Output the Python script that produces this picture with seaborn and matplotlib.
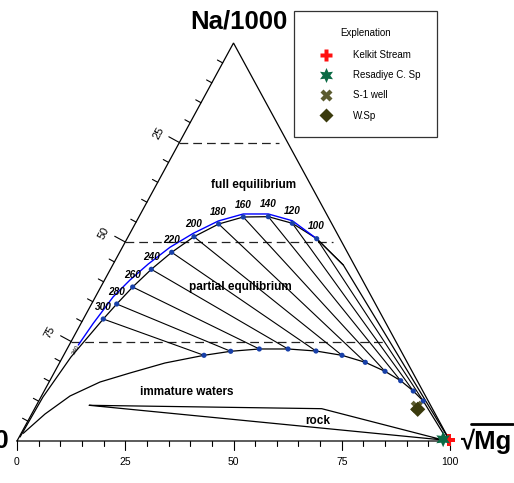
import numpy as np
import pandas as pd
import matplotlib
matplotlib.use("Agg")
import matplotlib.pyplot as plt
import seaborn as sns

# ---------------- data (ternary %: Na/1000 and sqrt(Mg)) ----------------
temps = [100, 120, 140, 160, 180, 200, 220, 240, 260, 280, 300]
full_na = [50.83, 54.70, 56.36, 56.28, 54.52, 51.33, 47.41, 43.14, 38.69, 34.42, 30.65]
full_mg = [43.80, 36.23, 29.86, 24.12, 19.32, 15.21, 12.02, 9.45, 7.37, 5.82, 4.60]
partial_na = [10.05, 12.56, 15.15, 17.51, 19.77, 21.53, 22.61, 23.12, 23.12, 22.54, 21.53]
partial_mg = [88.80, 85.24, 81.03, 76.23, 70.55, 64.29, 57.74, 51.03, 44.40, 38.08, 32.42]

# extensions of the full-equilibrium curve
full_low_na = [0.0, 44.22]          # toward sqrt(Mg) corner
full_low_mg = [100.0, 53.25]
full_high_na = [26.13, 21.11, 11.06, 1.0]   # toward K corner
full_high_mg = [3.33, 1.91, 0.47, 0.2]

# blue reference curve
blue_na = [24.12, 29.57, 36.26, 40.45, 44.47, 48.67, 52.19, 55.28, 57.04, 57.04, 55.35, 50.83]
blue_mg = [2.10, 2.83, 4.11, 5.87, 8.08, 10.99, 14.63, 18.85, 23.74, 29.52, 35.90, 43.80]

# immature-water boundary extensions
imm_left_na = [1.93, 6.78, 11.31, 14.82, 17.09, 19.60]
imm_left_mg = [0.48, 3.08, 6.59, 11.76, 17.56, 24.38]
imm_right_na = [0.75]
imm_right_mg = [98.7]

# rock dissolution wedge
rock_na = [8.97, 8.12, 0.25, 8.97]
rock_mg = [12.21, 66.31, 98.3, 12.21]

# samples
sample_names = ["Kelkit Stream", "Resadiye C. Sp", "S-1 well", "W.Sp"]
sample_na = [0.25, 0.43, 8.62, 7.96]
sample_mg = [99.6, 98.2, 88.0, 88.56]

bottom_ticks = [0, 25, 50, 75, 100]
left_ticks = [25, 50, 75]

# ---------------- helpers ----------------
SX, SY = 4.33, 3.98   # pixels per ternary unit

def tx(mg, na):
    return np.asarray(mg, float) + np.asarray(na, float) / 2.0

def line(mg, na, ax, **kw):
    sns.lineplot(x=tx(mg, na), y=np.asarray(na, float), sort=False,
                 estimator=None, ax=ax, legend=False, **kw)

sns.set_style("white")
plt.rcParams["font.family"] = ["Liberation Sans", "DejaVu Sans"]
plt.rcParams["text.color"] = "black"

fig = plt.figure(figsize=(5.14, 4.83), dpi=100)
ax = fig.add_axes([0, 0, 1, 1])
ax.set_xlim(-17 / SX, (514 - 17) / SX)
ax.set_ylim((441 - 483) / SY, 441 / SY)
ax.axis("off")

# triangle
ax.plot([0, 100, 50, 0], [0, 0, 100, 0], color="black", lw=0.9, solid_joinstyle="miter")

# bottom ticks
for v in range(0, 101, 5):
    L = 9 if v % 25 == 0 else 4.5
    ax.plot([v, v], [0, -L / SY], color="black", lw=0.8)
for v in bottom_ticks:
    ax.text(v, -21 / SY, str(v), ha="center", va="center", fontsize=7.5)

# left ticks (perpendicular to left edge)
ux, uy = -0.878, 0.478
for k in range(5, 100, 5):
    na = 100 - k
    L = 12 if k % 25 == 0 else 6
    x0, y0 = na / 2.0, na
    ax.plot([x0, x0 + ux * L / SX], [y0, y0 + uy * L / SY], color="black", lw=0.8)
for k in left_ticks:
    na = 100 - k
    ax.text(na / 2.0 - 21 / SX, na + 9 / SY, str(k), ha="center", va="center",
            fontsize=8, rotation=61.5)

# dashed reference lines
for na in [75, 50, 25]:
    ax.plot([na / 2.0, 100 - na / 2.0 - 2], [na, na], color="#222222", lw=0.9,
            dashes=(7, 4))

# rock wedge
line(rock_mg, rock_na, ax, color="black", lw=0.9)

# immature boundary curve
imm_mg = imm_left_mg + partial_mg[::-1] + imm_right_mg + [100.0]
imm_na = imm_left_na + partial_na[::-1] + imm_right_na + [0.0]
line(imm_mg, imm_na, ax, color="black", lw=0.9)

# tie lines
for i in range(len(temps)):
    line([full_mg[i], partial_mg[i]], [full_na[i], partial_na[i]], ax, color="black", lw=0.8)
line([full_low_mg[1], full_mg[0]], [full_low_na[1], full_na[0]], ax, color="black", lw=0.8)

# full equilibrium curve
feq_mg = full_low_mg + full_mg + full_high_mg
feq_na = full_low_na + full_na + full_high_na
line(feq_mg, feq_na, ax, color="black", lw=0.9)

# blue curve
line(blue_mg, blue_na, ax, color="#0000ff", lw=1.0)

# temperature points
pts = pd.DataFrame({"x": np.concatenate([tx(full_mg, full_na), tx(partial_mg, partial_na)]),
                    "y": np.concatenate([full_na, partial_na])})
sns.scatterplot(data=pts, x="x", y="y", color="#1840a8", s=14, edgecolor="none",
                ax=ax, legend=False, zorder=5)
for t, m, n in zip(temps, full_mg, full_na):
    ax.text(tx(m, n), n + 12.5 / SY, str(t), ha="center", va="center", fontsize=7.2,
            fontweight="bold", fontstyle="italic")
ax.text(tx(2.0, 23.0), 23.0, "340", ha="center", va="center", fontsize=4.5,
        rotation=61.5)

# region labels
ax.text(tx(22.4, 64.3), 64.3, "full equilibrium", ha="center", va="center",
        fontsize=8.5, fontweight="bold")
ax.text(tx(32.2, 38.7), 38.7, "partial equilibrium", ha="center", va="center",
        fontsize=8.5, fontweight="bold")
ax.text(tx(33.1, 12.3), 12.3, "immature waters", ha="center", va="center",
        fontsize=8.5, fontweight="bold")
ax.text(tx(67.0, 5.0), 5.0, "rock", ha="center", va="center",
        fontsize=8.5, fontweight="bold")

# corner labels
ax.text(50 + 5 / SX, 102.4, "Na/1000", ha="center", va="bottom", fontsize=18.5,
        fontweight="bold")
ax.text((461 - 17) / SX, 0, "\u221aMg", ha="left", va="center", fontsize=18.5,
        fontweight="bold")
ax.plot([(471 - 17) / SX, (513 - 17) / SX], [(441 - 424) / SY] * 2, color="black", lw=2.0)
ax.text(-8 / SX, 0, "K/100", ha="right", va="center", fontsize=18.5, fontweight="bold")

# samples
samples = pd.DataFrame({"x": tx(sample_mg, sample_na), "y": sample_na, "Sample": sample_names})
palette = {"Kelkit Stream": "#ff1010", "Resadiye C. Sp": "#0b6b45",
           "S-1 well": "#5c5c30", "W.Sp": "#3a3a0c"}
markers = {"Kelkit Stream": "P", "Resadiye C. Sp": (6, 1, 0),
           "S-1 well": "X", "W.Sp": "D"}
msizes = {"Kelkit Stream": 75, "Resadiye C. Sp": 130, "S-1 well": 75, "W.Sp": 60}
sns.scatterplot(data=samples, x="x", y="y", hue="Sample", style="Sample",
                size="Sample", sizes=msizes,
                palette=palette, markers=markers, edgecolor="none",
                ax=ax, zorder=6)
leg = ax.legend(title="Explenation", loc="upper left",
                bbox_to_anchor=(294 / 514, 1 - 11 / 483), bbox_transform=fig.transFigure,
                fontsize=7, title_fontsize=7, frameon=True, fancybox=False,
                borderpad=1.7, labelspacing=1.05, handletextpad=1.21,
                handlelength=3.13, borderaxespad=0, markerscale=0.95)
leg.get_frame().set_edgecolor("black")
leg.get_frame().set_linewidth(0.9)
leg._legend_box.sep = 9

fig.savefig("out.png", dpi=100)
